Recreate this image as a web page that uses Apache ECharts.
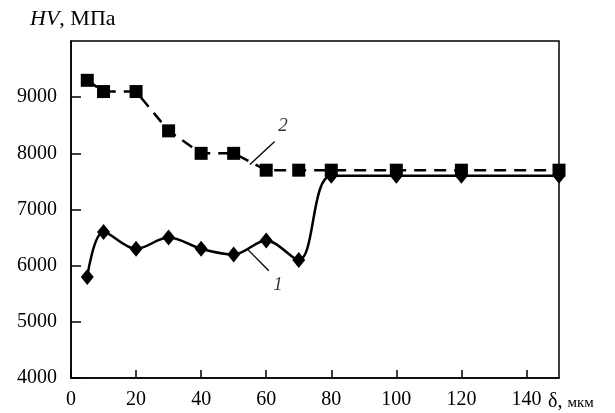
<!DOCTYPE html>
<html>
<head>
<meta charset="utf-8">
<script src="https://cdn.jsdelivr.net/npm/echarts@6/dist/echarts.min.js"></script>
<style>html,body{margin:0;padding:0;background:#fff}#c{width:615px;height:413px}</style>
</head>
<body>
<div id="c"></div>
<script>
// Data
const xValues1 = [5, 10, 20, 30, 40, 50, 60, 70, 80, 100, 120, 150];
const hv1 = [5800, 6600, 6300, 6500, 6300, 6200, 6450, 6100, 7600, 7600, 7600, 7600];
const xValues2 = [5, 10, 20, 30, 40, 50, 60, 70, 80, 100, 120, 150];
const hv2 = [9300, 9100, 9100, 8400, 8000, 8000, 7700, 7700, 7700, 7700, 7700, 7700];
const xTicks = [0, 20, 40, 60, 80, 100, 120, 140];
const yTicks = [4000, 5000, 6000, 7000, 8000, 9000];
// curve labels (leader line start/end and label position, in data units)
const leader1 = [[54.3, 6290], [60.8, 5910]];
const label1 = [63.6, 5650, '1'];
const leader2 = [[55.0, 7800], [62.6, 8210]];
const label2 = [65.2, 8480, '2'];

const serif = '"Liberation Serif", "DejaVu Serif", serif';
const pair = (xs, ys) => xs.map((x, i) => [x, ys[i]]);

const chart = echarts.init(document.getElementById('c'), null, {renderer: 'canvas'});
chart.setOption({
  animation: false,
  backgroundColor: '#fff',
  grid: {left: 71, right: 56, top: 41, bottom: 35, show: true, borderColor: '#000', borderWidth: 1.5, backgroundColor: 'transparent'},
  xAxis: {
    type: 'value', min: 0, max: 150, interval: 20,
    name: 'δ, {s|мкм}', nameLocation: 'end', nameGap: -11,
    nameTextStyle: {fontFamily: serif, fontSize: 20, color: '#000', align: 'left', verticalAlign: 'top', padding: [14, 0, 0, 0],
      rich: {s: {fontFamily: serif, fontSize: 15, color: '#000', padding: [3, 0, 0, 0]}}},
    axisLine: {show: true, lineStyle: {color: '#000', width: 1.5}},
    axisTick: {show: true, inside: true, length: 8, lineStyle: {color: '#000', width: 1.5}},
    axisLabel: {fontFamily: serif, fontSize: 20, color: '#000', margin: 12, showMaxLabel: false,
      formatter: v => xTicks.includes(v) ? String(v) : ''},
    splitLine: {show: false}
  },
  yAxis: {
    type: 'value', min: 4000, max: 10000, interval: 1000,
    name: '{i|HV}, МПа', nameLocation: 'end', nameGap: 11,
    nameTextStyle: {fontFamily: serif, fontSize: 22, color: '#000', align: 'left', padding: [0, 0, 0, -41],
      rich: {i: {fontFamily: serif, fontSize: 22, fontStyle: 'italic', color: '#000'}}},
    axisLine: {show: true, lineStyle: {color: '#000', width: 1.5}},
    axisTick: {show: true, inside: true, length: 10, lineStyle: {color: '#000', width: 1.5}},
    axisLabel: {fontFamily: serif, fontSize: 20, color: '#000', margin: 14, showMaxLabel: false,
      formatter: v => yTicks.includes(v) ? String(v) : ''},
    splitLine: {show: false}
  },
  series: [
    {
      type: 'line', data: pair(xValues2, hv2), smooth: false,
      symbol: 'rect', symbolSize: 13,
      itemStyle: {color: '#000'},
      lineStyle: {color: '#000', width: 2.5, type: [12, 8]},
      z: 3
    },
    {
      type: 'line', data: pair(xValues1, hv1), smooth: 0.35,
      symbol: 'diamond', symbolSize: [13, 16],
      itemStyle: {color: '#000'},
      lineStyle: {color: '#000', width: 2.5},
      z: 2
    },
    {type: 'line', data: leader1, symbol: 'none', lineStyle: {color: '#000', width: 1.3}, z: 4},
    {type: 'line', data: leader2, symbol: 'none', lineStyle: {color: '#000', width: 1.3}, z: 4},
    {
      type: 'scatter', symbolSize: 0, data: [label1, label2], z: 4,
      label: {show: true, position: 'inside', formatter: p => p.value[2],
        fontFamily: serif, fontSize: 19, fontStyle: 'italic', color: '#000'}
    }
  ]
});
</script>
</body>
</html>
